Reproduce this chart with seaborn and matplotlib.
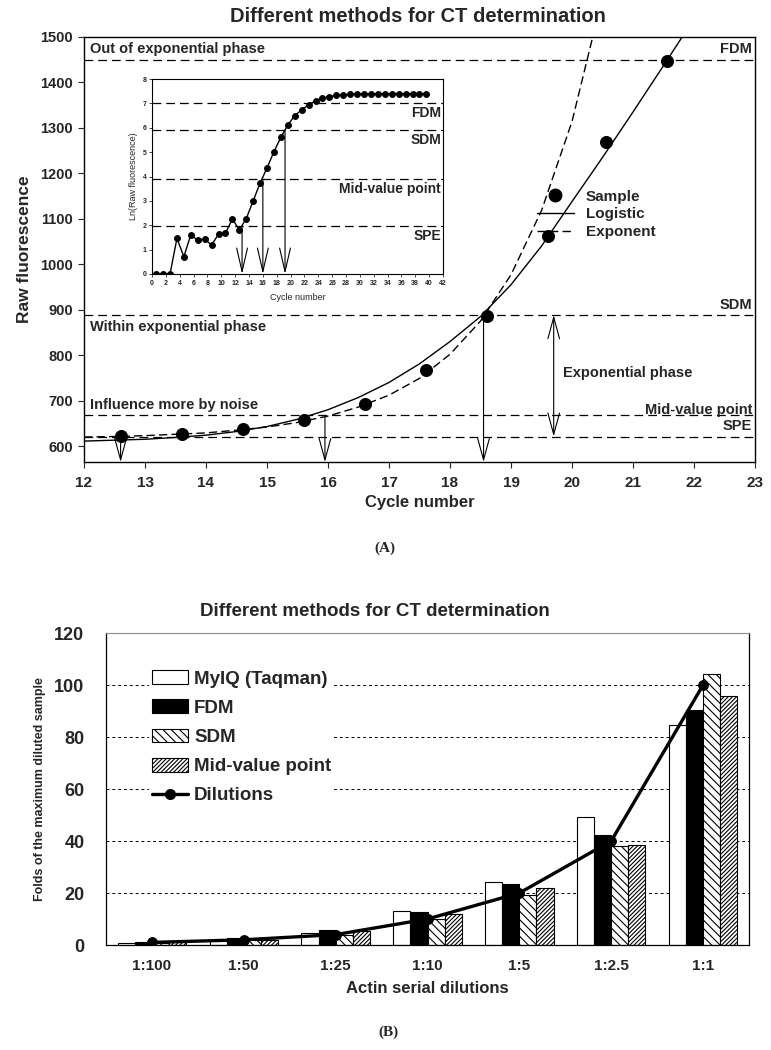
import numpy as np
import pandas as pd
import matplotlib
matplotlib.use("Agg")
import matplotlib.pyplot as plt
import seaborn as sns
from matplotlib.patches import Patch
from matplotlib.lines import Line2D

# ---------------- data: panel A ----------------
sample_cycle = [12.6, 13.6, 14.6, 15.6, 16.6, 17.6, 18.6, 19.6, 20.55, 21.55]
sample_fluor = [622, 626, 637, 658, 693, 767, 887, 1063, 1270, 1447]

logistic_cycle = [12.0, 12.5, 13.0, 13.5, 14.0, 14.5, 15.0, 15.5, 16.0, 16.5, 17.0,
                  17.5, 18.0, 18.5, 19.0, 19.5, 20.0, 20.5, 21.0, 21.5, 22.0]
logistic_fluor = [611, 613, 615, 619, 624, 632, 643, 659, 680, 707, 740,
                  781, 830, 885, 955, 1040, 1138, 1235, 1335, 1437, 1540]

exponent_cycle = [12.0, 12.5, 13.0, 13.5, 14.0, 14.5, 15.0, 15.5, 16.0, 16.5,
                  17.0, 17.5, 18.0, 18.5, 19.0, 19.5, 20.0, 20.5]
exponent_fluor = [620, 621, 623, 626, 629, 635, 642, 652, 666, 686,
                  712, 749, 802, 875, 977, 1118, 1314, 1588]

level_names = ["FDM", "SDM", "Mid-value point", "SPE"]
level_main = [1450, 888, 668, 621]
level_inset = [7.0, 5.9, 3.9, 1.95]
ct_main = [12.6, 15.95, 18.55]
ct_inset = [13.0, 16.0, 19.2]
ct_inset_level = [1.95, 3.9, 5.9]

inset_cycle = [0.6, 1.6, 2.6, 3.6, 4.6, 5.6, 6.6, 7.6, 8.6, 9.6,
               10.6, 11.6, 12.6, 13.6, 14.6, 15.6, 16.6, 17.6, 18.6, 19.6,
               20.6, 21.6, 22.6, 23.6, 24.6, 25.6, 26.6, 27.6, 28.6, 29.6,
               30.6, 31.6, 32.6, 33.6, 34.6, 35.6, 36.6, 37.6, 38.6, 39.6]
inset_ln = [0, 0, 0, 1.46, 0.71, 1.61, 1.38, 1.44, 1.18, 1.64,
            1.67, 2.26, 1.81, 2.27, 3.0, 3.73, 4.35, 5.02, 5.61, 6.11,
            6.5, 6.73, 6.95, 7.1, 7.21, 7.28, 7.33, 7.36, 7.37, 7.38,
            7.39, 7.39, 7.4, 7.4, 7.4, 7.4, 7.4, 7.4, 7.4, 7.4]

# ---------------- data: panel B ----------------
dilution_labels = ["1:100", "1:50", "1:25", "1:10", "1:5", "1:2.5", "1:1"]
methods = ["MyIQ (Taqman)", "FDM", "SDM", "Mid-value point"]
myiq = [0.8, 1.8, 4.5, 13.0, 24.3, 49.4, 84.6]
fdm = [1.2, 2.8, 5.8, 12.6, 23.6, 42.4, 90.3]
sdm = [0.9, 1.9, 4.0, 10.1, 19.4, 37.9, 104.2]
midv = [1.0, 2.1, 5.4, 12.0, 21.9, 38.6, 95.7]
dilutions = [1, 2, 4, 10, 20, 40, 100]

# ---------------- style ----------------
sns.set_theme(style="white")
plt.rcParams["font.family"] = ["Liberation Sans", "DejaVu Sans"]
plt.rcParams["font.weight"] = "bold"
plt.rcParams["hatch.linewidth"] = 0.8
plt.rcParams["hatch.color"] = "black"
plt.rcParams["axes.edgecolor"] = "black"

W, H = 771, 1050
fig = plt.figure(figsize=(W / 100, H / 100), dpi=100)


def box(l, t, r, b):
    return [l / W, 1 - b / H, (r - l) / W, (b - t) / H]


# ================= Panel A =================
ax = fig.add_axes(box(84, 37, 755, 462))
YLO = 565
ax.set_xlim(12, 23)
ax.set_ylim(YLO, 1500)

dash = (0, (7, 4))
for lv in level_main:
    ax.axhline(lv, color="black", lw=0.9, ls=dash, zorder=1)

sns.lineplot(x=logistic_cycle, y=logistic_fluor, color="black", lw=1.0,
             sort=False, estimator=None, ax=ax, zorder=3)
sns.lineplot(x=exponent_cycle, y=exponent_fluor, color="black", lw=1.0,
             ls=(0, (6, 3)), sort=False, estimator=None, ax=ax, zorder=3)
sns.scatterplot(x=sample_cycle, y=sample_fluor, color="black", s=75,
                edgecolor="black", ax=ax, zorder=4)

arrow_kw = dict(arrowstyle="->,head_length=1.1,head_width=0.3", lw=0.8,
                color="black", shrinkA=0, shrinkB=0, mutation_scale=14)
for x, lv in zip(ct_main, [level_main[3], level_main[2], level_main[1]]):
    ax.annotate("", xy=(x, YLO), xytext=(x, lv), arrowprops=arrow_kw, zorder=5)
ax.annotate("", xy=(19.7, level_main[3]), xytext=(19.7, level_main[1]),
            arrowprops=dict(arrowstyle="<->,head_length=1.1,head_width=0.3",
                            lw=0.8, color="black", shrinkA=0, shrinkB=0,
                            mutation_scale=14))

fs = 10.5
ax.text(12.1, 1458, "Out of exponential phase", fontsize=fs, ha="left", va="bottom")
ax.text(12.1, 878, "Within exponential phase", fontsize=fs, ha="left", va="top")
ax.text(12.1, 675, "Influence more by noise", fontsize=fs, ha="left", va="bottom")
ax.text(22.95, 1458, "FDM", fontsize=fs, ha="right", va="bottom")
ax.text(22.95, 895, "SDM", fontsize=fs, ha="right", va="bottom")
ax.text(22.95, 664, "Mid-value point", fontsize=fs, ha="right", va="bottom")
ax.text(22.95, 628, "SPE", fontsize=fs, ha="right", va="bottom")
ax.text(19.85, 760, "Exponential phase", fontsize=fs, ha="left", va="center")

handles = [Line2D([], [], marker="o", color="black", ls="none", markersize=9),
           Line2D([], [], color="black", lw=1.0),
           Line2D([], [], color="black", lw=1.0, ls=(0, (6, 3)))]
ax.legend(handles, ["Sample", "Logistic", "Exponent"], loc="upper left",
          bbox_to_anchor=(19.3, 1181), bbox_transform=ax.transData,
          frameon=False, fontsize=11, handlelength=2.4, handletextpad=0.8,
          labelspacing=0.25, borderpad=0)

ax.set_xticks(range(12, 24))
ax.set_yticks(range(600, 1501, 100))
ax.tick_params(axis="both", which="major", direction="out", length=4, width=0.8,
               bottom=True, left=True, labelsize=10.5, pad=4)
ax.tick_params(axis="x", labelsize=11, pad=6)
ax.set_xlabel("Cycle number", fontsize=12, fontweight="bold", labelpad=4)
ax.set_ylabel("Raw fluorescence", fontsize=12.5, fontweight="bold", labelpad=6)
for s in ax.spines.values():
    s.set_linewidth(1.0)

# ---- inset ----
axi = fig.add_axes(box(152, 79, 443, 274))
axi.set_xlim(0, 42)
axi.set_ylim(0, 8)
for lv in level_inset:
    axi.axhline(lv, color="black", lw=0.9, ls=dash, zorder=1)
sns.lineplot(x=inset_cycle, y=inset_ln, color="black", lw=1.0, marker="o",
             markersize=4.2, markeredgecolor="black", sort=False,
             estimator=None, ax=axi, zorder=3)
ia_kw = dict(arrowstyle="->,head_length=1.3,head_width=0.3", lw=0.8,
             color="black", shrinkA=0, shrinkB=0, mutation_scale=13)
for x, lv in zip(ct_inset, ct_inset_level):
    axi.annotate("", xy=(x, 0), xytext=(x, lv), arrowprops=ia_kw, zorder=4)
ifs = 10
axi.text(41.7, 6.88, "FDM", fontsize=ifs, ha="right", va="top")
axi.text(41.7, 5.78, "SDM", fontsize=ifs, ha="right", va="top")
axi.text(41.7, 3.78, "Mid-value point", fontsize=ifs, ha="right", va="top")
axi.text(41.7, 1.83, "SPE", fontsize=ifs, ha="right", va="top")
axi.set_xticks(range(0, 43, 2))
axi.set_yticks(range(0, 9))
axi.tick_params(direction="out", length=2, width=0.6, labelsize=5, pad=2,
                bottom=True, left=True)
axi.set_xlabel("Cycle number", fontsize=6.5, fontweight="normal", labelpad=5)
axi.set_ylabel("Ln(Raw fluorescence)", fontsize=6.5, fontweight="normal", labelpad=3)
for s in axi.spines.values():
    s.set_linewidth(0.8)

fig.text(418 / W, 1 - 16 / H, "Different methods for CT determination",
         fontsize=14.5, fontweight="bold", ha="center", va="center")
fig.text(385 / W, 1 - 548 / H, "(A)", fontsize=11, fontweight="bold",
         family=["Liberation Serif", "DejaVu Serif"], ha="center", va="center")

# ================= Panel B =================
ax2 = fig.add_axes(box(106, 633, 749, 945))
df = pd.DataFrame({
    "dilution": dilution_labels * 4,
    "method": sum([[m] * len(dilution_labels) for m in methods], []),
    "fold": myiq + fdm + sdm + midv,
})
sns.barplot(data=df, x="dilution", y="fold", hue="method", order=dilution_labels,
            hue_order=methods, palette=["white", "black", "white", "white"],
            edgecolor="black", linewidth=0.8, width=0.745, gap=0,
            errorbar=None, legend=False, ax=ax2, zorder=2)
hatches = [None, None, "\\\\\\\\", "////////"]
for cont, h in zip(ax2.containers, hatches):
    for p in cont:
        if h:
            p.set_hatch(h)
sns.lineplot(x=list(range(len(dilution_labels))), y=dilutions, color="black",
             lw=2.4, marker="o", markersize=7, markeredgecolor="black",
             sort=False, estimator=None, ax=ax2, zorder=4)

ax2.set_xlim(-0.5, 6.5)
ax2.set_ylim(0, 120)
ax2.set_yticks(range(0, 121, 20))
ax2.set_axisbelow(True)
ax2.yaxis.grid(True, color="black", lw=0.7, ls=(0, (3, 3)))
ax2.xaxis.grid(False)
ax2.tick_params(axis="y", length=0, labelsize=13, pad=15.5)
ax2.tick_params(axis="x", length=0, labelsize=11, pad=10)
ax2.set_xlabel("Actin serial dilutions", fontsize=12, fontweight="bold", labelpad=6)
ax2.set_ylabel("Folds of the maximum diluted sample", fontsize=9,
               fontweight="bold", labelpad=6)
ax2.spines["top"].set_color("0.55")
ax2.spines["top"].set_linewidth(0.8)
for k in ["left", "right", "bottom"]:
    ax2.spines[k].set_linewidth(0.9)

leg_handles = [Patch(facecolor="white", edgecolor="black", lw=0.8),
               Patch(facecolor="black", edgecolor="black", lw=0.8),
               Patch(facecolor="white", edgecolor="black", hatch="\\\\\\\\", lw=0.8),
               Patch(facecolor="white", edgecolor="black", hatch="////////", lw=0.8),
               Line2D([], [], color="black", lw=2.4, marker="o", markersize=7)]
leg = ax2.legend(leg_handles, methods + ["Dilutions"], loc="upper left",
                 bbox_to_anchor=(-0.03, 106.8), bbox_transform=ax2.transData,
                 frameon=True, facecolor="white", edgecolor="none", framealpha=1,
                 fontsize=13.5, handlelength=1.9, handleheight=0.75,
                 handletextpad=0.35, labelspacing=0.63, borderpad=0.15,
                 borderaxespad=0, fancybox=False)
leg.set_zorder(5)

fig.text(375 / W, 1 - 612 / H, "Different methods for CT determination",
         fontsize=13.5, fontweight="bold", ha="center", va="center")
fig.text(388 / W, 1 - 1032 / H, "(B)", fontsize=11, fontweight="bold",
         family=["Liberation Serif", "DejaVu Serif"], ha="center", va="center")

fig.savefig("out.png", dpi=100)
